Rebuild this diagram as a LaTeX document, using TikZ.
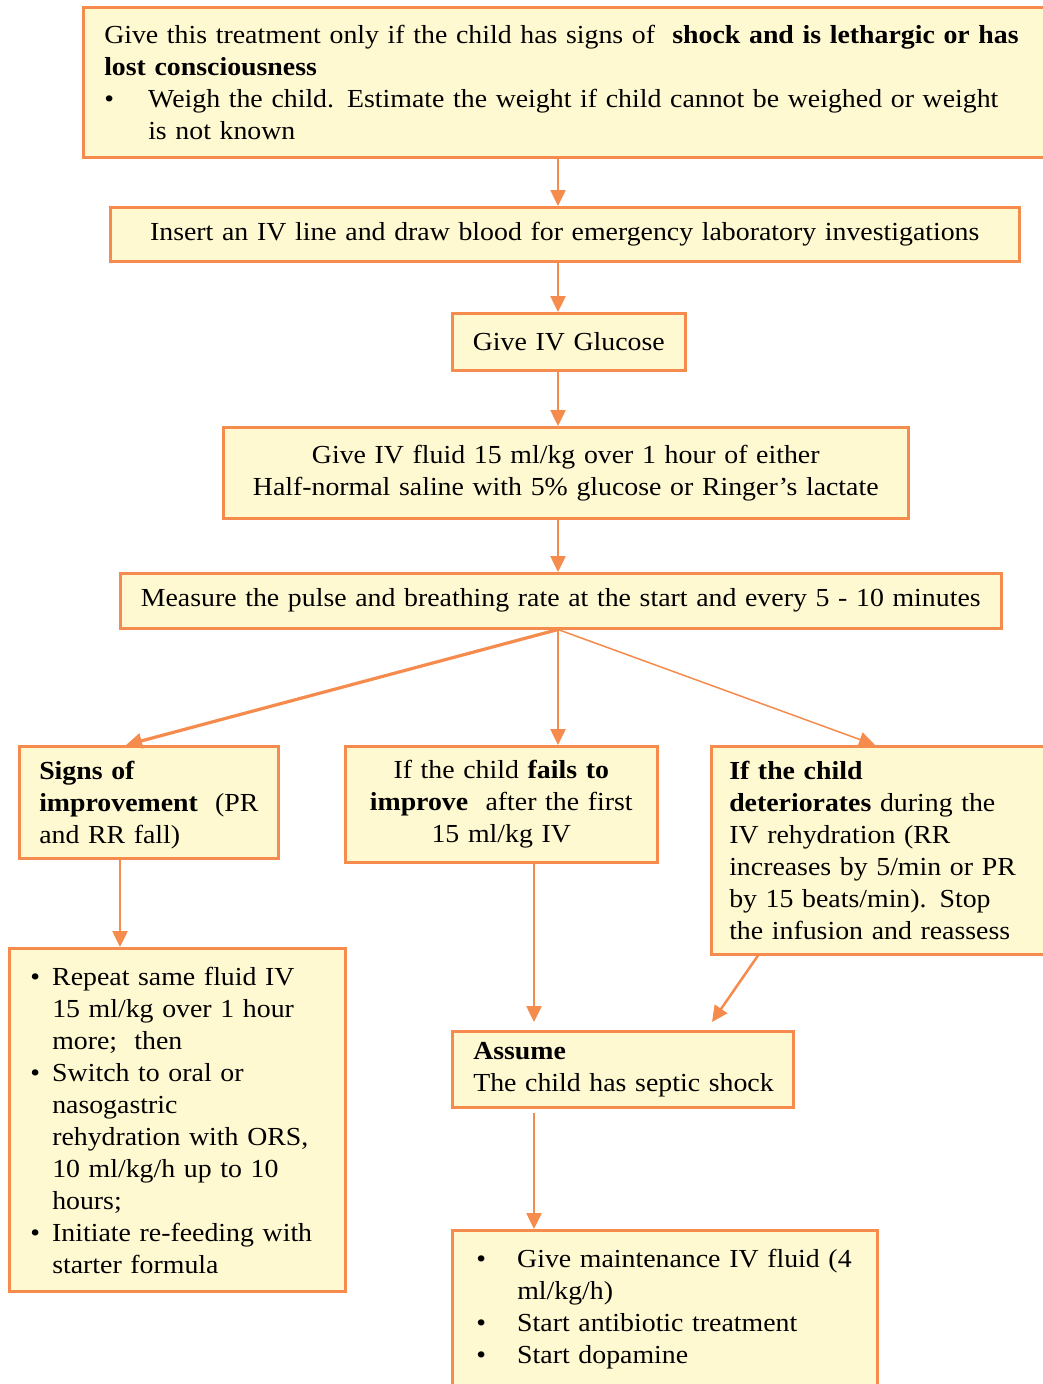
\documentclass[tikz,border=0pt]{standalone}
\usepackage{fontspec}
\setmainfont{Liberation Serif}[FakeStretch=1.07,WordSpace=0.85]
\usetikzlibrary{arrows.meta,calc}
\definecolor{orng}{HTML}{F58B4C}
\definecolor{fillc}{HTML}{FFF9D2}
\newcommand{\ltab}[1]{\begin{tabular}{@{}l@{}}\rule{0pt}{28.4pt}#1\end{tabular}}
\newcommand{\ltabz}[1]{\begin{tabular}{@{}l@{}}#1\end{tabular}}
\begin{document}
\begin{tikzpicture}[x=1pt,y=-1pt,
  box/.style={draw=orng, fill=fillc, line width=2.5pt, inner ysep=0pt, anchor=north west,
    font=\fontsize{26}{32}\selectfont},
  arr/.style={draw=orng, line width=2.5pt, -{Triangle[width=15pt,length=16pt]}}]
\clip (0,0) rectangle (1043,1384);
\fill[white] (0,0) rectangle (1043,1384);
\coordinate (spine) at (558,0);
\node[box, minimum width=1000pt, minimum height=150pt, inner xsep=21pt, text width=958pt, align=left] (b1) at (82,6)
 {\ltab{Give this treatment only if the child has signs of \ \textbf{shock and is lethargic or has}\\
  \textbf{lost consciousness}\\
  \makebox[44pt][l]{\textbullet}Weigh the child. Estimate the weight if child cannot be weighed or weight\\
  \hspace*{44pt}is not known}};
\node[box, minimum width=909pt, minimum height=54pt, inner xsep=5pt, text width=899pt, align=center] (b2) at (109,206)
 {Insert an IV line and draw blood for emergency laboratory investigations};
\node[box, minimum width=233pt, minimum height=57pt, inner xsep=5pt, text width=223pt, align=center] (b3) at (451,312)
 {Give IV Glucose};
\node[box, minimum width=685pt, minimum height=91pt, inner xsep=5pt, text width=675pt, align=center] (b4) at (222,426)
 {Give IV fluid 15 ml/kg over 1 hour of either\\ Half-normal saline with 5\% glucose or Ringer's lactate};
\node[box, minimum width=881pt, minimum height=55pt, inner xsep=5pt, text width=871pt, align=center] (b5) at (119,572)
 {Measure the pulse and breathing rate at the start and every 5 - 10 minutes};
\node[box, minimum width=259pt, minimum height=112pt, inner xsep=20pt, text width=219pt, align=left] (b6) at (18,745)
 {\ltab{\textbf{Signs of}\\ \textbf{improvement} \ (PR\\ and RR fall)}};
\node[box, minimum width=312pt, minimum height=116pt, inner xsep=5pt, text width=302pt, align=center] (b7) at (344,745)
 {If the child \textbf{fails to}\\ \textbf{improve} \ after the first\\ 15 ml/kg IV};
\node[box, minimum width=360pt, minimum height=208pt, inner xsep=18pt, text width=324pt, align=left] (b8) at (710,745)
 {\ltab{\textbf{If the child}\\ \textbf{deteriorates} during the\\ IV rehydration (RR\\ increases by 5/min or PR\\ by 15 beats/min). Stop\\ the infusion and reassess}};
\node[box, minimum width=336pt, minimum height=343pt, inner xsep=21pt, text width=294pt, align=left] (b9) at (8,947)
 {\ltab{\makebox[22pt][l]{\textbullet}Repeat same fluid IV\\ \hspace*{22pt}15 ml/kg over 1 hour\\ \hspace*{22pt}more; \ then\\
  \makebox[22pt][l]{\textbullet}Switch to oral or\\ \hspace*{22pt}nasogastric\\ \hspace*{22pt}rehydration with ORS,\\
  \hspace*{22pt}10 ml/kg/h up to 10\\ \hspace*{22pt}hours;\\
  \makebox[22pt][l]{\textbullet}Initiate re-feeding with\\ \hspace*{22pt}starter formula}};
\node[box, minimum width=341pt, minimum height=76pt, inner xsep=21pt, text width=299pt, align=left] (b10) at (451,1030)
 {\ltabz{\textbf{Assume}\\ The child has septic shock}};
\node[box, minimum width=425pt, minimum height=158pt, inner xsep=24pt, text width=377pt, align=left] (b11) at (451,1229)
 {\ltabz{\makebox[41pt][l]{\textbullet}Give maintenance IV fluid (4\\ \hspace*{41pt}ml/kg/h)\\
  \makebox[41pt][l]{\textbullet}Start antibiotic treatment\\ \makebox[41pt][l]{\textbullet}Start dopamine}};
% arrows
\draw[arr] (spine |- b1.south) -- (spine |- b2.north);
\draw[arr] (spine |- b2.south) -- (spine |- b3.north);
\draw[arr] (spine |- b3.south) -- (spine |- b4.north);
\draw[arr] (spine |- b4.south) -- (spine |- b5.north);
\coordinate (fork) at (spine |- b5.south);
\coordinate (t6) at ($(b6.north west)+(108,0)$);
\coordinate (t8) at ($(b8.north west)+(165,0)$);
\draw[arr, line width=3.2pt] (fork) -- (t6);
\draw[arr] (fork) -- (spine |- b7.north);
\draw[arr, line width=1.5pt] (fork) -- (t8);
\coordinate (c6) at (120,0);
\draw[arr] (c6 |- b6.south) -- (c6 |- b9.north);
\coordinate (c7) at (534,0);
\draw[arr, shorten >=8pt] (c7 |- b7.south) -- (c7 |- b10.north);
\coordinate (s8) at ($(b8.south west)+(48,0)$);
\coordinate (t10) at ($(b10.north west)+(261,-8)$);
\draw[arr] (s8) -- (t10);
\draw[arr, shorten <=4pt] (c7 |- b10.south) -- (c7 |- b11.north);
\end{tikzpicture}
\end{document}
